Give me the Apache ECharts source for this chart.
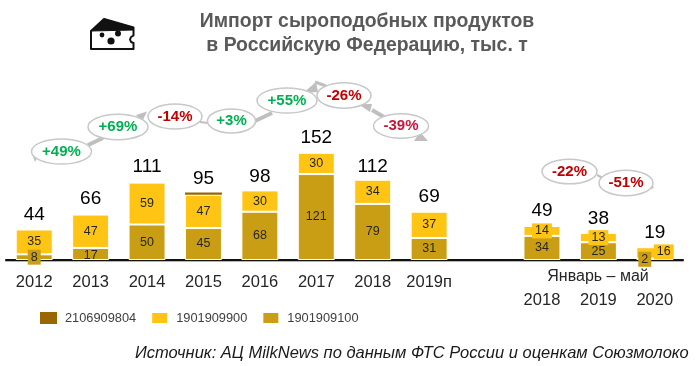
<!DOCTYPE html>
<html><head><meta charset="utf-8">
<style>html,body{margin:0;padding:0;background:#fff}#c{width:698px;height:366px}</style>
<script src="https://cdn.jsdelivr.net/npm/echarts@6/dist/echarts.min.js"></script>
</head><body><div id="c"></div>
<script>
const categories = ['2012','2013','2014','2015','2016','2017','2018','2019п','','2018','2019','2020'];
const seriesNames = ['2106909804','1901909900','1901909100'];
const values1901909100 = [8,17,50,45,68,121,79,31,null,34,25,2];
const values1901909900 = [35,47,59,47,30,30,34,37,null,14,13,16];
const values2106909804 = [null,null,null,3,null,null,null,null,null,null,null,null];
const totals = [44,66,111,95,98,152,112,69,null,49,38,19];
const growthLabels = ['+49%','+69%','-14%','+3%','+55%','-26%','-39%','-22%','-51%'];
const periodLabel = 'Январь – май';
const titleText = 'Импорт сыроподобных продуктов\nв Российскую Федерацию, тыс. т';
const sourceText = 'Источник: АЦ MilkNews по данным ФТС России и оценкам Союзмолоко';

const GOLD='#C99E14', YELLOW='#FFC414', BROWN='#9A6600', FONT='"Liberation Sans",Arial,sans-serif';
const ARROW='#BFBFBF';
// annotation layout (pixels), kept apart from the data
const bubbles=[
 {cx:61.5,cy:151.5,rx:30,ry:12.5,c:'#00B050'},{cx:118,cy:127,rx:30,ry:12.8,c:'#00B050'},
 {cx:175,cy:116.5,rx:27,ry:12.5,c:'#C00000'},{cx:231.5,cy:121,rx:24,ry:12,c:'#00B050'},
 {cx:287,cy:100.5,rx:30,ry:12.5,c:'#00B050'},{cx:344,cy:95.5,rx:27,ry:12.7,c:'#C00000'},
 {cx:401,cy:126,rx:27.5,ry:12.2,c:'#C8143C'},{cx:569.5,cy:171.5,rx:27.5,ry:12.3,c:'#C00000'},
 {cx:626,cy:183,rx:27,ry:12.8,c:'#C00000'}];
const segs=[[88,145,103,138,4],[255,121,272,113,4],[315,82,326,86,3],[372,110,384,117,4],[200,122,208,123,2],[597,175,603,178,2]];
const heads=[[[32,154],[38,156],[35,162]],[[136,115],[147,111.5],[142,122]],[[303,93],[316,82],[318,92]],
 [[358,104],[372,104],[370,112]],[[414,141],[428,141],[420,132]],[[651,184],[654,188],[648,190]]];

function dataLabel(v,i,name){
  const o={value:v};
  if(name==='g'&&i===0) o.label={backgroundColor:GOLD,padding:[1,3,1,3],offset:[0,0],position:'inside'};
  if(name==='g'&&i===1) o.label={position:'insideBottom',distance:-2};
  if(name==='g'&&i===11) o.label={backgroundColor:GOLD,padding:[1,3,1,3],offset:[-10,0]};
  if(name==='y'&&(i===9||i===10)) o.label={backgroundColor:YELLOW,padding:[1,3,1,3]};
  if(name==='y'&&i===11) o.label={backgroundColor:YELLOW,padding:[1,3,1,3],offset:[9,-1]};
  return o;
}
const barBase={type:'bar',stack:'t',barWidth:37,itemStyle:{borderColor:'#fff',borderWidth:1}};
const lblOn={show:true,position:'inside',color:'#262626',fontSize:12.5,fontFamily:FONT};

const graphic=[];
segs.forEach(s=>graphic.push({type:'line',z:5,shape:{x1:s[0],y1:s[1],x2:s[2],y2:s[3]},style:{stroke:ARROW,lineWidth:s[4]}}));
heads.forEach(h=>graphic.push({type:'polygon',z:5,shape:{points:h},style:{fill:ARROW}}));
bubbles.forEach((b,i)=>{
  graphic.push({type:'ellipse',z:6,shape:{cx:b.cx,cy:b.cy,rx:b.rx,ry:b.ry},style:{fill:'#fff',stroke:'#C8C8C8',lineWidth:1.5}});
  graphic.push({type:'text',z:7,x:b.cx,y:b.cy,style:{text:growthLabels[i],fill:b.c,font:'bold 15px '+FONT,align:'center',verticalAlign:'middle'}});
});
graphic.push({type:'text',z:7,x:598,y:277,style:{text:periodLabel,fill:'#262626',font:'16px '+FONT,align:'center',verticalAlign:'middle'}});
// cheese icon
graphic.push({type:'polygon',z:5,shape:{points:[[91,31],[104,19],[133.5,27.5],[133.5,35.5],[131,37],[130,39.5],[131,42],[133.5,43],[133.5,49],[91,49]]},style:{fill:'#fff',stroke:'#111',lineWidth:2,lineJoin:'round'}});
graphic.push({type:'polygon',z:5,shape:{points:[[91,31],[104,19],[133.5,27.5],[133.5,30]]},style:{fill:'#111',stroke:'#111',lineWidth:1,lineJoin:'round'}});
[[102,35,2.4],[118,33.5,3],[111,41,3.6]].forEach(c=>graphic.push({type:'circle',z:6,shape:{cx:c[0],cy:c[1],r:c[2]},style:{fill:'#111'}}));

const chart=echarts.init(document.getElementById('c'),null,{renderer:'canvas'});
chart.setOption({
  animation:false,backgroundColor:'#fff',
  title:[
   {text:titleText,left:362,top:5,textAlign:'center',textStyle:{color:'#595959',fontFamily:FONT,fontWeight:'bold',fontSize:19.4,lineHeight:24}},
   {text:sourceText,left:130,top:340,textStyle:{color:'#1a1a1a',fontFamily:FONT,fontStyle:'italic',fontWeight:'normal',fontSize:16.5}}
  ],
  grid:{left:6,top:47,width:677,height:213,containLabel:false},
  legend:{data:seriesNames,left:35,top:306,itemWidth:17,itemHeight:12,itemGap:14,icon:'rect',
    textStyle:{color:'#404040',fontFamily:FONT,fontSize:12.8,padding:[0,0,0,3]}},
  xAxis:{type:'category',data:categories,axisTick:{show:false},
    axisLine:{lineStyle:{color:'#111',width:2,shadowColor:'#b5b5b5',shadowOffsetY:1,shadowBlur:0}},
    axisLabel:{interval:0,margin:14,color:'#262626',fontFamily:FONT,fontSize:16.5,
      formatter:(v,i)=>i>=9?'{late|'+v+'}':v,
      rich:{late:{fontSize:16.5,fontFamily:FONT,color:'#262626',padding:[18,0,0,0]}}}},
  yAxis:{type:'value',min:0,max:300,show:false},
  series:[
   {...barBase,name:seriesNames[2],color:GOLD,label:lblOn,data:values1901909100.map((v,i)=>dataLabel(v,i,'g'))},
   {...barBase,name:seriesNames[1],color:YELLOW,label:lblOn,data:values1901909900.map((v,i)=>dataLabel(v,i,'y'))},
   {...barBase,name:seriesNames[0],color:BROWN,itemStyle:{borderWidth:0},data:values2106909804},
   {type:'scatter',name:'total',symbolSize:1,itemStyle:{color:'transparent',opacity:1},data:totals,z:4,
    label:{show:true,position:'top',distance:4,color:'#000',fontFamily:FONT,fontSize:19}}
  ],
  graphic:graphic
});
</script></body></html>
